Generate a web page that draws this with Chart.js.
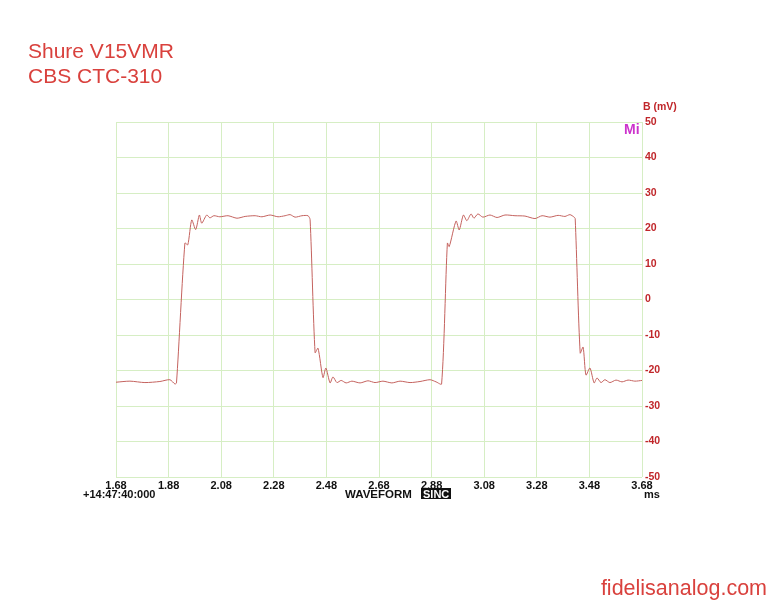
<!DOCTYPE html>
<html>
<head>
<meta charset="utf-8">
<script src="https://cdn.jsdelivr.net/npm/chart.js@4"></script>
<style>
html,body{margin:0;padding:0;background:#fff;}
</style>
</head>
<body>
<canvas id="myChart" width="776" height="600"></canvas>
<script>
// waveform (ms, mV)
var times = [1.680,1.733,1.790,1.847,1.885,1.904,1.910,1.942,1.953,1.968,1.983,1.997,2.006,2.025,2.037,2.052,2.075,2.106,2.140,2.171,2.209,2.235,2.266,2.296,2.323,2.342,2.361,2.387,2.410,2.418,2.437,2.448,2.467,2.478,2.494,2.505,2.520,2.536,2.555,2.577,2.608,2.638,2.665,2.695,2.729,2.760,2.798,2.836,2.874,2.897,2.918,2.940,2.947,2.973,2.985,3.001,3.014,3.030,3.041,3.056,3.075,3.102,3.129,3.159,3.197,3.235,3.273,3.300,3.330,3.361,3.387,3.406,3.422,3.426,3.445,3.456,3.467,3.482,3.498,3.509,3.524,3.539,3.558,3.581,3.604,3.627,3.653,3.680];
var volts = [-23.3,-23.0,-23.4,-23.1,-22.6,-23.8,-23.5,15.9,15.4,22.4,19.7,23.8,21.5,23.8,23.0,23.6,23.3,23.6,22.9,23.4,23.6,23.3,23.8,23.3,23.6,23.9,23.2,23.6,23.6,22.5,-15.0,-13.7,-22.0,-19.3,-23.5,-21.8,-23.4,-22.8,-23.5,-23.0,-23.5,-22.9,-23.4,-23.0,-23.5,-23.0,-23.4,-23.1,-22.6,-23.2,-23.8,15.9,14.9,22.1,19.6,23.8,22.2,24.1,22.9,24.1,23.2,23.8,23.1,23.8,23.6,23.5,22.8,23.6,23.2,23.7,23.4,23.9,23.2,22.8,-15.1,-13.4,-21.3,-19.3,-23.5,-22.1,-23.4,-22.6,-23.4,-22.7,-23.2,-22.7,-23.0,-22.8];
var xTicks = [1.68,1.88,2.08,2.28,2.48,2.68,2.88,3.08,3.28,3.48,3.68];
var yTicks = [50,40,30,20,10,0,-10,-20,-30,-40,-50];

var titleLines = ['Shure V15VMR', 'CBS CTC-310'];
var footer = 'fidelisanalog.com';

var pts = [];
for (var i = 0; i < times.length; i++) {
  pts.push({x: times[i], y: volts[i]});
}

var gridColor = '#d6eec4';
var fam = '"Liberation Sans", Arial, sans-serif';

var extras = {
  id: 'extras',
  afterDraw: function(chart) {
    var c = chart.ctx;
    c.save();
    c.textBaseline = 'alphabetic';
    c.textAlign = 'left';
    c.fillStyle = '#d9413d';
    c.font = '21px ' + fam;
    c.fillText(titleLines[0], 28, 58);
    c.fillText(titleLines[1], 28, 83);
    c.font = '21.5px ' + fam;
    c.textAlign = 'right';
    c.fillText(footer, 767, 595);

    c.textAlign = 'left';
    c.font = 'bold 10.5px ' + fam;
    c.fillStyle = '#c0262a';
    c.fillText('B (mV)', 643, 110);
    c.fillStyle = '#cc33cc';
    c.font = 'bold 14px ' + fam;
    c.fillText('Mi', 624, 134);

    c.fillStyle = '#111';
    c.font = 'bold 11px ' + fam;
    c.fillText('+14:47:40:000', 83, 498);
    c.font = 'bold 11.5px ' + fam;
    c.fillText('WAVEFORM', 345, 498);
    c.font = 'bold 11px ' + fam;
    c.fillText('ms', 644, 498);
    c.fillRect(421, 488, 30, 11);
    c.fillStyle = '#fff';
    c.fillText('SINC', 423, 498);
    c.restore();
  }
};

new Chart(document.getElementById('myChart'), {
  type: 'line',
  data: {
    datasets: [{
      data: pts,
      borderColor: '#c4625e',
      borderWidth: 1,
      pointRadius: 0,
      tension: 0.25,
      fill: false
    }]
  },
  options: {
    responsive: false,
    animation: false,
    devicePixelRatio: 1,
    layout: {padding: {left: 116, top: 122, right: 0, bottom: 0}},
    plugins: {legend: {display: false}, tooltip: {enabled: false}},
    scales: {
      x: {
        type: 'linear',
        min: 1.68,
        max: 3.68,
        afterBuildTicks: function(s) { s.ticks = xTicks.map(function(v){ return {value: v}; }); },
        afterFit: function(s) { s.height = 123; },
        grid: {color: gridColor, drawTicks: false},
        border: {display: false},
        ticks: {
          autoSkip: false,
          maxRotation: 0,
          padding: 2,
          color: '#111',
          font: {family: fam, size: 11, weight: 'bold'},
          callback: function(v) { return v.toFixed(2); }
        }
      },
      y: {
        position: 'right',
        min: -50,
        max: 50,
        afterBuildTicks: function(s) { s.ticks = yTicks.map(function(v){ return {value: v}; }); },
        afterFit: function(s) { s.width = 134; },
        grid: {color: gridColor, drawTicks: false},
        border: {display: false},
        ticks: {
          autoSkip: false,
          padding: 3,
          color: '#c0262a',
          font: {family: fam, size: 10.5, weight: 'bold'}
        }
      }
    }
  },
  plugins: [extras]
});
</script>
</body>
</html>
